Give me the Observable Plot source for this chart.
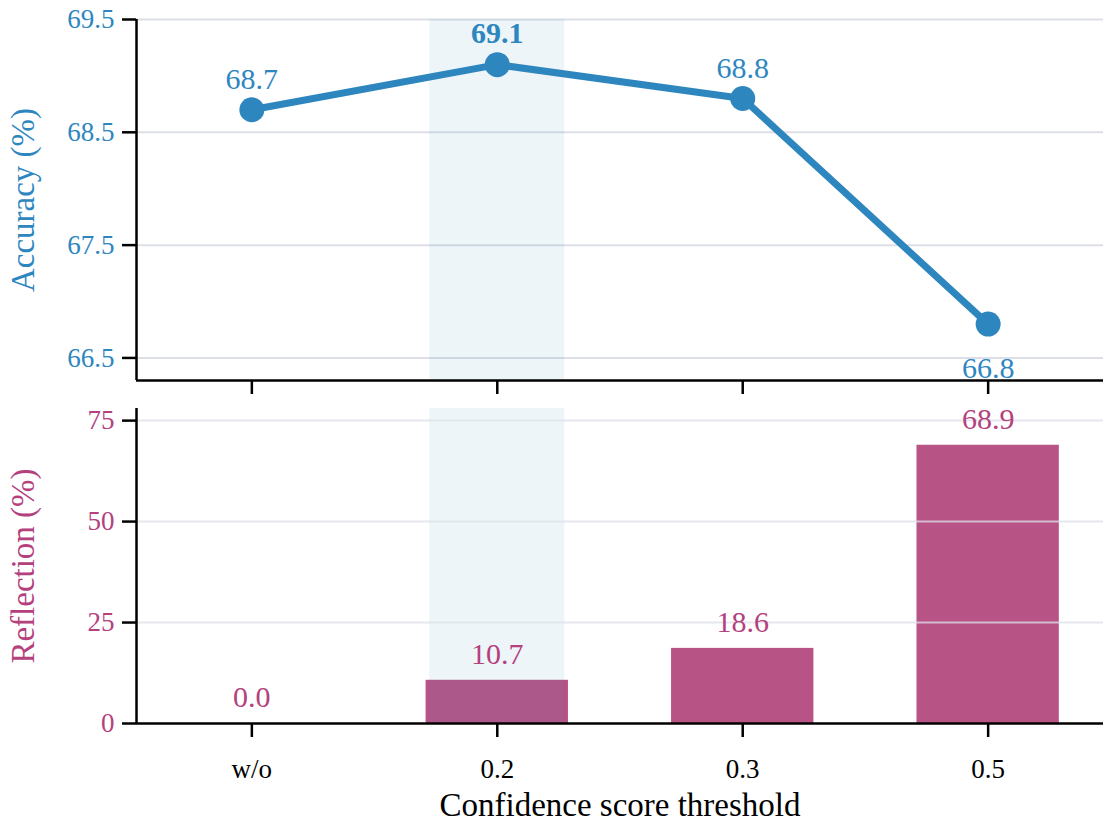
<!DOCTYPE html>
<html>
<head>
<meta charset="utf-8">
<script src="https://cdn.jsdelivr.net/npm/d3@7"></script>
<script src="https://cdn.jsdelivr.net/npm/@observablehq/plot@0.6"></script>
<style>
  html, body { margin: 0; padding: 0; background: #fff; font-family: "Liberation Serif", serif; }
  #chart svg { display: block; overflow: visible; }
</style>
</head>
<body>
<div id="chart"></div>
<script>
// Confidence score thresholds and the two measured series
const thresholds = ["w/o", "0.2", "0.3", "0.5"];
const accuracy = [68.7, 69.1, 68.8, 66.8];
const reflection = [0.0, 10.7, 18.6, 68.9];
const bestThreshold = "0.2";
const accuracyTicks = [66.5, 67.5, 68.5, 69.5];
const reflectionTicks = [0, 25, 50, 75];

const BLUE = "#2e86bf";
const SHADE = "#3a8fb7";
const PINK = "#b85386";
const PINK_TEXT = "#b4417e";
const GRID = "#dcdfe7";
const FONT = "Liberation Serif, serif";

const rows = thresholds.map((t, i) => ({t, i, acc: accuracy[i], refl: reflection[i]}));
const best = rows.filter(d => d.t === bestThreshold);
const lowest = d3.min(accuracy);
// accuracy labels: the lowest one sits under its point, the best one is bold
const accAbove = rows.filter(d => d.acc !== lowest && d.t !== bestThreshold);
const accBelow = rows.filter(d => d.acc === lowest);

const xScale = {type: "linear", domain: [-0.47, 3.47], axis: null};
const common = {
  width: 1109,
  marginLeft: 136,
  marginRight: 6,
  style: "background: transparent; overflow: visible; font-family: 'Liberation Serif', serif;"
};
const txt = {fontFamily: FONT};

// Top panel: accuracy line
const accuracyPanel = Plot.plot({
  ...common,
  height: 400,
  marginTop: 19,
  marginBottom: 20,
  x: xScale,
  y: {domain: [66.3, 69.5], axis: null},
  marks: [
    Plot.gridY(accuracyTicks, {stroke: GRID, strokeOpacity: 1, strokeWidth: 2}),
    Plot.rectX(best, {x1: d => d.i - 0.275, x2: d => d.i + 0.275, fill: SHADE, fillOpacity: 0.09}),
    Plot.line(rows, {x: "i", y: "acc", stroke: BLUE, strokeWidth: 7}),
    Plot.dot(rows, {x: "i", y: "acc", r: 12.5, fill: BLUE}),
    Plot.text(accAbove, {...txt, x: "i", y: "acc", text: d => d.acc.toFixed(1), dy: -30, fill: BLUE, fontSize: 30}),
    Plot.text(best, {...txt, x: "i", y: "acc", text: d => d.acc.toFixed(1), dy: -31, fill: BLUE, fontSize: 30, fontWeight: "bold"}),
    Plot.text(accBelow, {...txt, x: "i", y: "acc", text: d => d.acc.toFixed(1), dy: 44, fill: BLUE, fontSize: 30}),
    Plot.ruleY([66.3], {stroke: "black", strokeWidth: 2.5}),
    Plot.ruleX([-0.47], {y1: 66.3, y2: 69.5, stroke: "black", strokeWidth: 2.5}),
    Plot.axisY(accuracyTicks, {
      ...txt, tickSize: 14, tickPadding: 8, strokeWidth: 2.5, stroke: "black",
      fill: BLUE, fontSize: 27, label: null, tickFormat: d => d.toFixed(1)
    }),
    Plot.axisX([0, 1, 2, 3], {tickSize: 14, strokeWidth: 2.5, stroke: "black", tickFormat: () => "", label: null}),
    Plot.text(["Accuracy (%)"], {
      ...txt, frameAnchor: "left", textAnchor: "middle", rotate: -90, dx: -113, fill: BLUE, fontSize: 33
    })
  ]
});

// Bottom panel: reflection bars
const reflectionPanel = Plot.plot({
  ...common,
  height: 434,
  marginTop: 8,
  marginBottom: 111,
  x: xScale,
  y: {domain: [0, 78], axis: null},
  marks: [
    Plot.rectY(rows, {x1: d => d.i - 0.29, x2: d => d.i + 0.29, y: "refl", fill: PINK}),
    Plot.rectX(best, {x1: d => d.i - 0.275, x2: d => d.i + 0.275, fill: SHADE, fillOpacity: 0.09}),
    Plot.gridY(reflectionTicks.filter(v => v > 0), {stroke: GRID, strokeOpacity: 0.75, strokeWidth: 2}),
    Plot.text(rows, {...txt, x: "i", y: "refl", text: d => d.refl.toFixed(1), dy: -26, fill: PINK_TEXT, fontSize: 30}),
    Plot.ruleY([0], {stroke: "black", strokeWidth: 2.5}),
    Plot.ruleX([-0.47], {y1: 0, y2: 78, stroke: "black", strokeWidth: 2.5}),
    Plot.axisY(reflectionTicks, {
      ...txt, tickSize: 14, tickPadding: 8, strokeWidth: 2.5, stroke: "black",
      fill: PINK_TEXT, fontSize: 27, label: null
    }),
    Plot.axisX([0, 1, 2, 3], {
      ...txt, tickSize: 14, tickPadding: 21, strokeWidth: 2.5, stroke: "black",
      fill: "black", fontSize: 27, label: null, tickFormat: i => thresholds[i]
    }),
    Plot.text(["Reflection (%)"], {
      ...txt, frameAnchor: "left", textAnchor: "middle", rotate: -90, dx: -113, fill: PINK_TEXT, fontSize: 33
    }),
    Plot.text(["Confidence score threshold"], {...txt, frameAnchor: "bottom", dy: 92, fill: "black", fontSize: 33})
  ]
});

const root = document.getElementById("chart");
root.appendChild(accuracyPanel);
root.appendChild(reflectionPanel);
// set the serif face directly on every label
d3.selectAll("#chart svg text").style("font-family", "'Liberation Serif', serif");
</script>
</body>
</html>
